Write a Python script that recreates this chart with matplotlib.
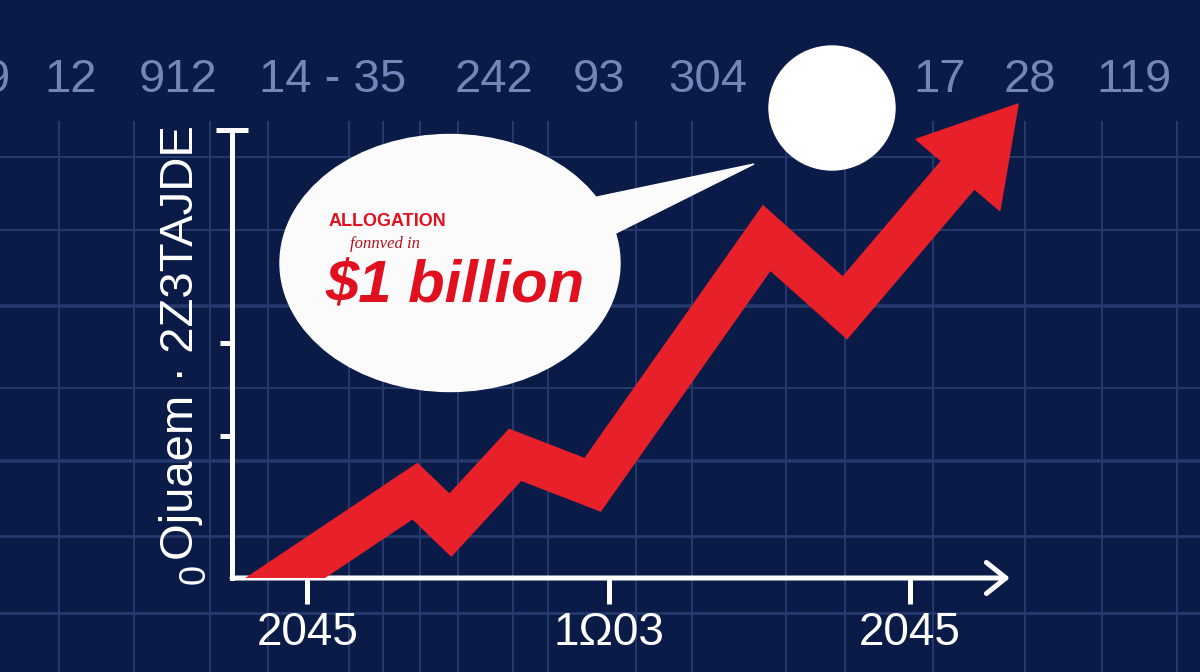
import numpy as np
import matplotlib
matplotlib.use("Agg")
from matplotlib import pyplot as plt
from matplotlib.patches import Ellipse, Polygon

# --- chart values ---
x_vals = [0.27, 2.43, 2.90, 3.76, 4.79, 7.10, 8.14, 10.44]
y_vals = [-0.49, 1.94, 1.18, 2.75, 2.08, 7.59, 6.03, 10.58]
x_ticks = [1, 5, 9]
x_labels = ["2045", "1\u03a903", "2045"]
y_ticks = [3.17, 5.25, 10.0]
y_label = "Ojuaem \u00b7 2Z3TAJDE"
top_numbers = ["9", "12", "912", "14 - 35", "242", "93", "304", "17", "28", "119"]
bubble_title = "ALLOGATION"
bubble_sub = "fonnved in"
bubble_value = "$1 billion"

# --- layout (pixels) ---
W, H = 1200, 672
top_x = [-3, 71, 178, 333, 494, 599, 708, 940, 1030, 1134]
grid_x = [59, 134, 210, 268, 349, 383, 420, 458, 513, 548, 636, 692,
          786, 845, 933, 1025, 1102, 1177]
grid_y = [157, 230, 306, 388, 461, 536, 613]
grid_w = [1.4, 1.4, 2.6, 1.4, 2.6, 2.0, 2.0]

BG = "#0a1b48"
GRID = "#26396c"
RED = "#e8202a"

plt.rcParams["font.family"] = ["Liberation Sans", "DejaVu Sans"]

fig = plt.figure(figsize=(12, 6.72), dpi=100)
fig.patch.set_facecolor(BG)

# background grid, bubble and circle in pixel space
bg = fig.add_axes([0, 0, 1, 1])
bg.set_xlim(0, W)
bg.set_ylim(H, 0)
bg.axis("off")
for gx in grid_x:
    bg.plot([gx, gx], [122, H], color=GRID, lw=1.4, zorder=0)
for gy, lw in zip(grid_y, grid_w):
    bg.plot([0, W], [gy, gy], color=GRID, lw=lw, zorder=0)

bg.add_patch(Ellipse((450, 263), 340, 257, color="#fbfbfb", zorder=5))
bg.add_patch(Polygon([(597, 197), (754, 164), (612, 235)], closed=True,
                     color="#fbfbfb", zorder=5))
bg.add_patch(Ellipse((832, 108), 126, 124, color="#ffffff", zorder=5))

bg.text(329, 226, bubble_title, color="#e0101e", fontsize=13,
        fontweight="bold", ha="left", va="baseline", zorder=6)
bg.text(350, 248, bubble_sub, color="#b3101c", fontsize=12,
        family=["Liberation Serif", "DejaVu Serif"], style="italic",
        ha="left", va="baseline", zorder=6)
bg.text(325, 302, bubble_value, color="#e0101e", fontsize=43,
        fontweight="bold", style="italic", ha="left", va="baseline", zorder=6)

for s, x in zip(top_numbers, top_x):
    fig.text(x / W, 1 - 92 / H, s, ha="center", va="baseline",
             fontsize=34, color="#7386b8")

# main axes: origin at (232, 578) px
x0, y0 = 232, 578
px_x, px_y = 75.3, 44.8
right, top = 1060, 60
ax = fig.add_axes([x0 / W, (H - y0) / H, (right - x0) / W, (y0 - top) / H])
ax.set_xlim(0, (right - x0) / px_x)
ax.set_ylim(0, (y0 - top) / px_y)
ax.patch.set_alpha(0)
for side in ["top", "right", "bottom"]:
    ax.spines[side].set_visible(False)
ax.spines["left"].set_color("white")
ax.spines["left"].set_linewidth(3.6)
ax.spines["left"].set_bounds(0, 10)
ax.spines["left"].set_capstyle("projecting")

# x axis with open arrow
ax.annotate("", xy=(10.33, 0), xytext=(0, 0),
            arrowprops=dict(arrowstyle="->,head_length=1.0,head_width=0.8",
                            lw=3.6, color="white", mutation_scale=14,
                            shrinkA=0, shrinkB=0))
ax.set_xticks(x_ticks, x_labels)
ax.tick_params(axis="x", length=19, width=3.6, color="white", pad=5,
               labelsize=33, labelcolor="white")

ax.set_yticks(y_ticks, ["" for _ in y_ticks])
ax.tick_params(axis="y", length=9, width=3.6, color="white")
cap = ax.yaxis.get_major_ticks()[-1]
cap.tick1line.set_marker("_")
cap.tick1line.set_markersize(23)
ax.set_yticks([0], ["0"], minor=True)
ax.tick_params(axis="y", which="minor", length=0, labelsize=26,
               labelcolor="white", labelrotation=90, pad=14)

ax.set_ylabel(y_label, fontsize=34, color="white", va="center")
ax.yaxis.set_label_coords((181 - x0) / (right - x0), (y0 - 343) / (y0 - top))

# red zigzag arrow
trans = ax.transData
tip = trans.transform((x_vals[-1], y_vals[-1]))
prev = trans.transform((x_vals[-2], y_vals[-2]))
u = (tip - prev) / np.hypot(*(tip - prev))
n = np.array([-u[1], u[0]])
head_len, head_w = 93, 110
base = tip - head_len * u
head = trans.inverted().transform(np.array([tip, base + n * head_w / 2,
                                            base - n * head_w / 2]))
base_d = trans.inverted().transform(base)

ax.plot(list(x_vals[:-1]) + [base_d[0]], list(y_vals[:-1]) + [base_d[1]],
        color=RED, lw=32, solid_joinstyle="miter", solid_capstyle="butt",
        zorder=3)
ax.fill(head[:, 0], head[:, 1], color=RED, zorder=3)

fig.savefig("out.png", dpi=100, facecolor=BG)
